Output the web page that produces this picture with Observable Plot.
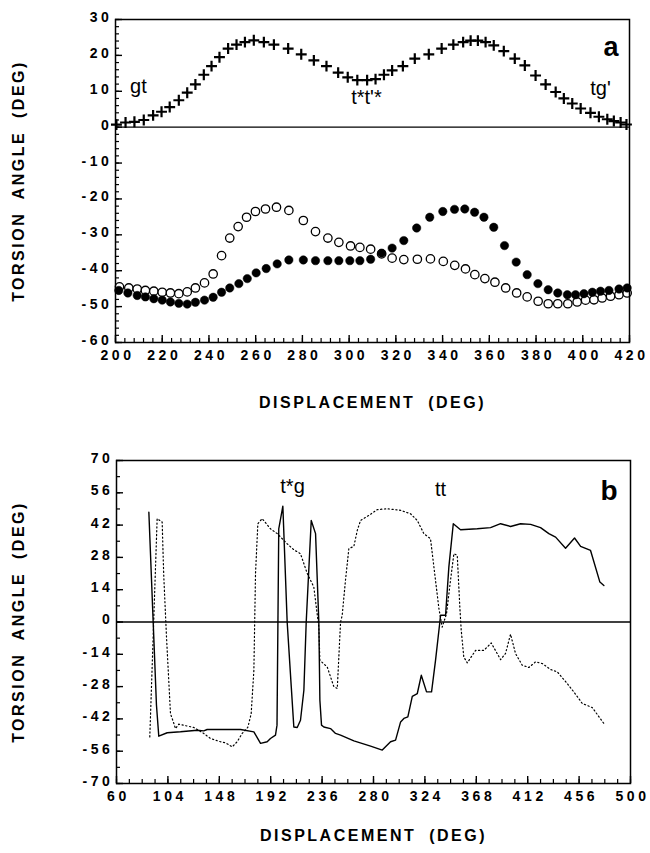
<!DOCTYPE html>
<html><head><meta charset="utf-8">
<script src="https://cdn.jsdelivr.net/npm/d3@7"></script>
<script src="https://cdn.jsdelivr.net/npm/@observablehq/plot@0.6"></script>
<style>
body{margin:0;background:#fff;}
#chart{width:650px;}
svg{display:block;}
g[aria-label="x-axis tick label"] text, g[aria-label="y-axis tick label"] text{letter-spacing:3.6px;font-size:14px;}
</style></head><body><div id="chart"></div>
<script>
// ---------- Panel a ----------
const crossX = [200.4,204.3,208.1,212.1,216.1,219.7,223.2,227.1,230.7,234.2,237.8,241.1,244.5,248.2,251.8,255.4,259.2,263.5,267.8,273.9,279.5,284.9,290.3,295.3,299.4,303.5,307.7,311.3,314.9,318.4,323.0,328.1,334.1,339.6,344.6,348.8,352.0,355.1,358.4,361.9,366.2,370.9,375.2,379.8,384.1,388.4,391.9,395.5,399.1,403.3,406.9,410.5,413.3,416.2,418.7];
const crossY = [0.7,1.3,1.5,2.0,3.3,4.3,5.6,7.5,9.6,11.9,14.6,17.0,19.5,21.9,23.0,23.7,24.2,23.7,23.0,21.9,20.3,18.6,17.0,15.2,13.9,13.1,13.1,13.4,14.6,15.8,17.0,19.1,20.3,21.9,23.0,23.7,24.1,24.1,23.7,22.8,21.2,19.1,17.2,14.4,11.9,9.8,8.0,6.6,5.2,4.0,2.9,2.2,1.7,1.3,0.75];
const openX = [201.7,205.7,209.3,212.8,216.4,220.0,223.5,227.1,230.7,234.2,238.1,241.8,245.4,248.9,252.5,256.1,259.9,264.2,268.9,274.2,280.4,285.6,290.9,295.6,300.6,304.6,309.2,313.9,318.4,323.4,329.2,334.8,340.3,345.2,349.8,353.8,358.1,362.4,367.0,371.7,376.2,380.9,385.2,389.3,393.6,397.6,401.2,404.8,408.3,411.9,415.5,419.0];
const openY = [-44.5,-44.8,-45.1,-45.5,-45.7,-46.0,-46.2,-46.4,-45.9,-44.8,-43.4,-40.9,-35.8,-30.9,-27.7,-25.1,-23.5,-22.8,-22.3,-23.2,-26.0,-29.1,-30.9,-32.1,-33.1,-33.5,-34.0,-35.3,-36.5,-36.9,-36.8,-36.7,-37.4,-38.5,-39.5,-41.1,-42.2,-43.2,-44.8,-46.2,-47.3,-48.5,-49.2,-49.2,-49.2,-48.7,-48.2,-48.1,-47.6,-47.1,-46.7,-46.2];
const filledX = [201.4,205.3,209.3,212.8,216.4,220.0,223.5,227.1,230.7,234.2,238.1,241.8,245.4,248.9,252.8,256.4,260.2,264.5,269.2,274.2,280.4,285.6,290.9,295.6,300.3,304.6,309.2,313.9,318.4,323.4,328.9,334.5,340.1,345.1,349.5,353.7,357.7,361.9,366.5,371.5,376.2,380.8,385.2,389.3,393.4,396.9,400.5,404.1,407.6,411.2,415.5,419.0];
const filledY = [-45.5,-46.2,-46.9,-47.3,-47.8,-48.2,-48.7,-49.1,-49.3,-48.8,-48.2,-47.4,-46.0,-44.8,-43.6,-42.2,-40.6,-39.4,-38.1,-37.0,-37.0,-37.2,-37.2,-37.2,-37.2,-37.2,-36.8,-35.1,-33.7,-31.6,-28.1,-25.1,-23.5,-22.9,-22.8,-23.7,-25.1,-27.9,-33.0,-37.6,-41.1,-43.6,-45.3,-46.2,-46.7,-46.7,-46.4,-46.0,-45.7,-45.5,-45.1,-44.8];
const aXTicks = [200,220,240,260,280,300,320,340,360,380,400,420];
const aYTicks = [30,20,10,0,-10,-20,-30,-40,-50,-60];
const aNotes = ["gt","t*t'*","tg'"];
const aNoteX = [209.8,307.4,407.6];
const aNoteY = [11.4,8.3,10.8];

// ---------- Panel b ----------
const solidX = [87.7,91.4,94.2,96.2,103.4,114.8,129.1,134.7,137.6,166.2,177.6,183.3,189.0,191.8,196.1,197.4,198.9,202.4,206.1,209.6,211.8,214.7,217.5,220.4,222.4,226.7,230.4,233.2,234.1,235.5,237.5,243.2,247.5,251.8,263.2,277.5,287.5,294.6,298.9,303.2,306.0,309.4,313.2,317.5,320.9,325.4,329.7,333.1,336.8,337.4,341.7,344.5,348.3,354.5,368.8,380.2,388.8,397.3,405.9,414.5,423.0,430.1,435.9,444.4,452.1,457.3,465.8,473.8,477.2];
const solidY = [47.6,0,-36.0,-49.5,-48.0,-47.6,-46.9,-47.2,-46.6,-46.6,-47.6,-52.6,-51.9,-50.5,-49.0,-44.7,40.4,50.2,0,-28.0,-45.5,-45.7,-42.6,-29.6,0,44.0,38.3,0,-33.9,-44.7,-45.5,-46.2,-48.3,-49.0,-51.5,-53.8,-55.5,-51.9,-51.2,-43.3,-41.8,-41.1,-32.2,-31.0,-23.1,-30.3,-30.3,-16.6,0,2.9,2.9,23.8,42.6,40.0,40.4,40.9,42.6,41.4,42.6,42.3,40.9,38.3,36.8,32.0,36.4,32.8,31.0,17.3,15.8];
const dottedX = [88.5,94.8,99.1,100.0,100.5,102.8,106.2,109.1,110.5,113.3,126.1,134.7,140.5,149.0,153.3,159.1,163.3,167.6,172.4,175.3,177.6,179.0,181.0,184.7,191.8,197.6,206.1,211.8,217.5,223.3,228.9,233.2,234.1,240.4,246.1,249.0,251.8,253.2,256.0,258.9,263.2,266.1,268.9,276.0,283.2,291.8,303.2,311.7,317.5,323.1,328.8,333.1,336.0,338.8,342.5,345.9,348.8,351.7,353.9,355.1,357.3,360.3,367.4,374.5,380.8,388.8,393.0,397.3,401.6,407.3,413.0,418.7,424.5,431.6,437.3,445.9,451.5,458.7,467.3,477.2];
const dottedY = [-49.8,44.8,43.3,27.4,19.5,-6.5,-39.7,-44.0,-46.2,-44.3,-45.7,-48.3,-50.5,-51.9,-52.4,-54.1,-51.9,-48.3,-45.7,-39.7,-20.9,21.0,42.6,44.8,40.4,38.3,33.9,31.3,29.6,21.0,15.2,-2.2,-16.6,-19.5,-28.1,-28.8,0,2.9,18.0,31.8,32.8,39.7,44.0,46.2,48.7,49.1,48.4,46.9,44.0,38.3,36.1,18.0,5.8,-2.2,3.6,18.0,29.6,28.9,6.5,-3.6,-15.2,-17.7,-12.3,-12.3,-9.1,-16.3,-13.7,-5.3,-13.7,-18.7,-19.7,-17.3,-18.0,-20.6,-21.6,-26.7,-30.3,-35.3,-37.1,-44.0];
const bXTicks = [60,104,148,192,236,280,324,368,412,456,500];
const bYTicks = [70,56,42,28,14,0,-14,-28,-42,-56,-70];
const bNotes = ["t*g","tt"];
const bNoteX = [210.7,337.4];
const bNoteY = [58.7,57.4];

const xTitle = "DISPLACEMENT (DEG)";
const yTitle = "TORSION ANGLE (DEG)";

const fmt = d => d < 0 ? "-" + Math.abs(d) : String(d);
const font = "'Liberation Sans', Arial, Helvetica, sans-serif";
const style = {fontFamily: font, fontSize: "13px", fontWeight: "bold", color: "black", background: "white"};

function inwardTicks(xMajor, xMinor, yMajor, yMinor, pw, ph) {
  return [
    Plot.tickX(xMinor, {x: d => d, insetTop: ph - 4, strokeWidth: 1.2}),
    Plot.tickX(xMajor, {x: d => d, insetTop: ph - 7, strokeWidth: 1.4}),
    Plot.tickY(yMinor, {y: d => d, insetRight: pw - 4, strokeWidth: 1.2}),
    Plot.tickY(yMajor, {y: d => d, insetRight: pw - 7, strokeWidth: 1.4})
  ];
}

function spaceTitles(svg) {
  d3.select(svg).selectAll("text")
    .filter(function() { return this.textContent === xTitle || this.textContent === yTitle; })
    .style("letter-spacing", "2.5px").style("word-spacing", "6px");
}

// Panel a
{
  const W = 650, H = 420, mt = 19, mb = 78, ml = 115, mr = 21;
  const pw = W - ml - mr, ph = H - mt - mb;
  const plusPts = d3.zip(crossX, crossY);
  const openPts = d3.zip(openX, openY);
  const fillPts = d3.zip(filledX, filledY);
  const notes = d3.zip(aNotes, aNoteX, aNoteY);
  const svg = Plot.plot({
    width: W, height: H, marginTop: mt, marginBottom: mb, marginLeft: ml, marginRight: mr,
    style,
    x: {domain: [200, 420]},
    y: {domain: [-60, 30]},
    marks: [
      Plot.ruleY([0], {strokeWidth: 1.3}),
      ...inwardTicks(aXTicks, d3.range(200, 421, 4), aYTicks, d3.range(-60, 31, 2), pw, ph),
      Plot.dot(openPts, {x: d => d[0], y: d => d[1], r: 4.2, stroke: "black", strokeWidth: 1.3, fill: "white"}),
      Plot.dot(fillPts, {x: d => d[0], y: d => d[1], r: 4.2, fill: "black", stroke: "black", strokeWidth: 0.5}),
      Plot.dot(plusPts, {x: d => d[0], y: d => d[1], symbol: "plus", r: 3.6, stroke: "black", strokeWidth: 2.2}),
      Plot.text(notes, {x: d => d[1], y: d => d[2], text: d => d[0], fontSize: 20, fontWeight: "normal"}),
      Plot.text(["a"], {frameAnchor: "top-right", dx: -11, dy: 17, fontSize: 27, fontWeight: "bold"}),
      Plot.axisX({ticks: aXTicks, tickSize: 0, tickPadding: 8, tickFormat: fmt, label: null, dx: 2}),
      Plot.axisY({ticks: aYTicks, tickSize: 0, tickPadding: 3, tickFormat: fmt, label: null, dy: -2}),
      Plot.text([xTitle], {frameAnchor: "bottom", dy: 65, fontSize: 16}),
      Plot.text([yTitle], {frameAnchor: "left", textAnchor: "middle", dx: -97, rotate: -90, fontSize: 16}),
      Plot.frame({strokeWidth: 1.5})
    ]
  });
  spaceTitles(svg);
  document.getElementById("chart").append(svg);
}

// Panel b
{
  const W = 650, H = 433, mt = 40, mb = 70, ml = 116, mr = 20;
  const pw = W - ml - mr, ph = H - mt - mb;
  const solid = d3.zip(solidX, solidY);
  const dotted = d3.zip(dottedX, dottedY);
  const notes = d3.zip(bNotes, bNoteX, bNoteY);
  const svg = Plot.plot({
    width: W, height: H, marginTop: mt, marginBottom: mb, marginLeft: ml, marginRight: mr,
    style,
    x: {domain: [60, 500]},
    y: {domain: [-70, 70]},
    marks: [
      Plot.ruleY([0], {strokeWidth: 1.3}),
      ...inwardTicks(bXTicks, d3.range(60, 501, 11), bYTicks, d3.range(-70, 71, 7), pw, ph),
      Plot.line(dotted, {x: d => d[0], y: d => d[1], stroke: "black", strokeWidth: 1.2, strokeDasharray: "1.2,2.6"}),
      Plot.line(solid, {x: d => d[0], y: d => d[1], stroke: "black", strokeWidth: 1.4}),
      Plot.text(notes, {x: d => d[1], y: d => d[2], text: d => d[0], fontSize: 20, fontWeight: "normal"}),
      Plot.text(["b"], {frameAnchor: "top-right", dx: -13, dy: 20, fontSize: 28, fontWeight: "bold"}),
      Plot.axisX({ticks: bXTicks, tickSize: 0, tickPadding: 8, tickFormat: fmt, label: null, dx: 2}),
      Plot.axisY({ticks: bYTicks, tickSize: 0, tickPadding: 3, tickFormat: fmt, label: null, dy: -2}),
      Plot.text([xTitle], {frameAnchor: "bottom", dy: 57, fontSize: 16}),
      Plot.text([yTitle], {frameAnchor: "left", textAnchor: "middle", dx: -98, rotate: -90, fontSize: 16}),
      Plot.frame({strokeWidth: 1.5})
    ]
  });
  spaceTitles(svg);
  document.getElementById("chart").append(svg);
}
</script></body></html>
